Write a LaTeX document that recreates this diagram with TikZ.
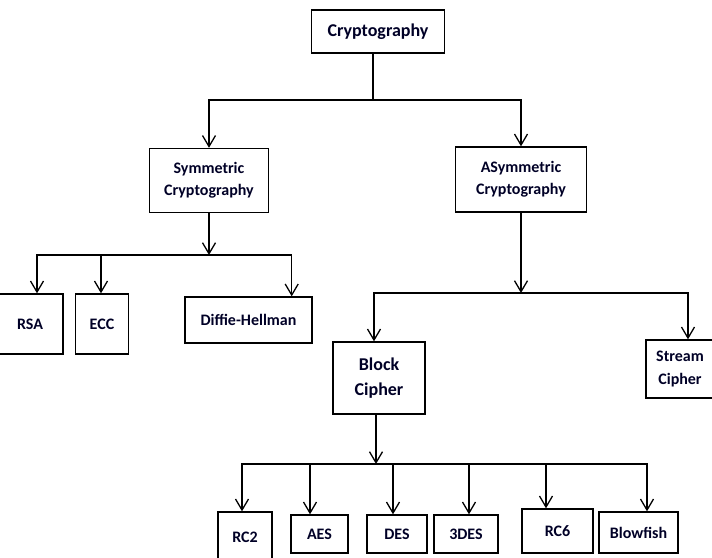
\documentclass[tikz,border=0pt]{standalone}
\usepackage{fontspec}
\setmainfont{Carlito}
\usetikzlibrary{positioning,arrows.meta}

\tikzset{
    box/.style={draw,line width=1.4pt,rectangle,align=center,inner sep=0pt,
        font=\bfseries\fontsize{16}{22}\selectfont,text=black!85!blue},
    link/.style={line width=1.3pt},
    arr/.style={line width=1.3pt,-{Straight Barb[length=11pt,width=13pt,line width=1.3pt]}}
}

\begin{document}
\begin{tikzpicture}[x=1pt,y=-1pt]
                \useasboundingbox (0,0) rectangle (712,557);
                % top level
                \node[box,minimum width=133,minimum height=43,font=\bfseries\fontsize{18}{22}\selectfont] (crypto) at (378,31.5) {Cryptography};
                \node[box,minimum width=119,minimum height=64] (sym) at (209,180.5) {Symmetric\\Cryptography};
                \node[box,minimum width=131,minimum height=65] (asym) at (521,179.5) {ASymmetric\\Cryptography};
                % symmetric side
                \node[box,minimum width=66,minimum height=60] (rsa) at (30,324) {RSA};
                \node[box,minimum width=53,minimum height=60] (ecc) at (102,324) {ECC};
                \node[box,minimum width=127,minimum height=46] (dh) at (248.5,320) {Diffie-Hellman};
                % asymmetric side
                \node[box,minimum width=92,minimum height=72,font=\bfseries\fontsize{18}{25}\selectfont] (block) at (379,378) {Block\\Cipher};
                \node[box,minimum width=68,minimum height=58,font=\bfseries\fontsize{16}{23}\selectfont] (stream) at (680,369) {Stream\\Cipher};
                % block ciphers
                \node[box,minimum width=54,minimum height=50] (rc2) at (245,537) {RC2};
                \node[box,minimum width=57,minimum height=38] (aes) at (319.5,534) {AES};
                \node[box,minimum width=60,minimum height=38] (des) at (397,534) {DES};
                \node[box,minimum width=64,minimum height=38] (tdes) at (466,534) {3DES};
                \node[box,minimum width=71,minimum height=44] (rc6) at (557.5,531) {RC6};
                \node[box,minimum width=79,minimum height=41] (blowfish) at (638.5,532.5) {Blowfish};
                % junctions
                \coordinate (j0) at (373,100);
                \coordinate (j1) at (209,255);
                \coordinate (j2) at (521,293);
                \coordinate (j3) at (376,464);
                % connectors
                \draw[link] (crypto.south -| j0) -- (j0);
                \draw[arr] (j0) -| (sym.north);
                \draw[arr] (j0) -| (asym.north);
                \draw[arr] (sym.south) -- (j1);
                \draw[arr] (j1) -| ([xshift=7pt]rsa.north);
                \draw[arr] (j1) -| ([xshift=-1pt]ecc.north);
                \draw[arr] (j1) -| ([xshift=-21pt]dh.north east);
                \draw[arr] (asym.south) -- (j2);
                \draw[arr] (j2) -| ([xshift=-5pt]block.north);
                \draw[arr] (j2) -| ([xshift=8pt]stream.north);
                \draw[arr] (block.south -| j3) -- (j3);
                \draw[arr] (j3) -| ([xshift=-3pt]rc2.north);
                \draw[arr] (j3) -| ([xshift=-9.5pt]aes.north);
                \draw[arr] (j3) -| ([xshift=-4pt]des.north);
                \draw[arr] (j3) -| ([xshift=3pt]tdes.north);
                \draw[arr] (j3) -| ([xshift=-11.5pt]rc6.north);
                \draw[arr] (j3) -| ([xshift=8.5pt]blowfish.north);
            \end{tikzpicture}
\end{document}
